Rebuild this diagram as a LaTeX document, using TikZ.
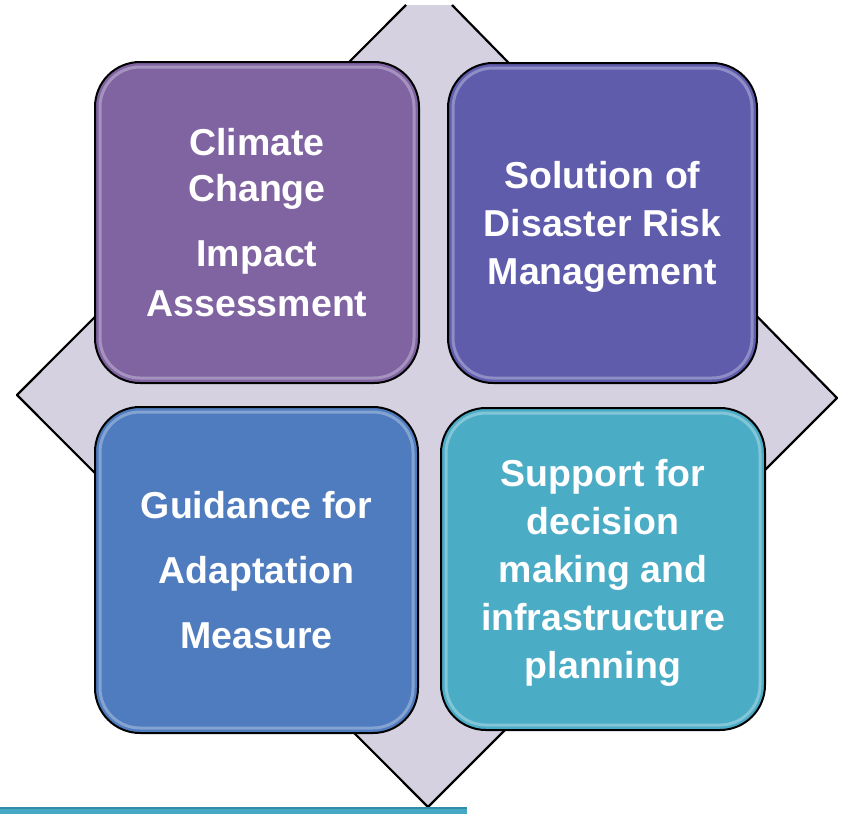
\documentclass[tikz,border=0pt]{standalone}
\usepackage{fontspec}
\setmainfont{Liberation Sans}
\usetikzlibrary{positioning}

\definecolor{cardpurple}{HTML}{8064A2}
\definecolor{cardviolet}{HTML}{5F5CAC}
\definecolor{cardblue}{HTML}{4F7CBE}
\definecolor{cardaqua}{HTML}{4BACC6}
\definecolor{lavender}{HTML}{D5D1E1}
\definecolor{bardark}{HTML}{2E8CA8}
\definecolor{barlight}{HTML}{45A9C4}

\tikzstyle{card} = [rectangle, rounded corners=45pt, draw=black, line width=2pt, text=white, align=center, text depth=0pt, font=\bfseries\fontsize{37.5}{48}\selectfont]
\tikzstyle{gleam} = [rounded corners=40pt, draw=white, line width=3pt, opacity=0.3]

\begin{document}
\begin{tikzpicture}[x=1pt, y=-1pt]
	\useasboundingbox (0,0) rectangle (841,814);
	% Backdrop diamond
	\fill [lavender] (406,5) -- (452,5) -- (837,398) -- (428,807) -- (17,395) -- cycle;
	\draw [line width=2.2pt, line join=round] (406,5) -- (17,395) -- (428,807) -- (837,398) -- (452,5);
	% Strip along the bottom
	\fill [barlight] (0,808) rectangle (467,814);
	\draw [bardark, line width=1.5pt] (0,808) -- (467,808);
	% Place nodes
	\node [card, fill=cardpurple, minimum width=324pt, minimum height=321pt] (tl) at (257,222.5) {Climate\\[-2pt]Change\\[17pt]Impact\\[2pt]Assessment};
	\node [card, fill=cardviolet, minimum width=309pt, minimum height=320pt] (tr) at (602.5,223) {Solution of\\Disaster Risk\\Management};
	\node [card, fill=cardblue, minimum width=323pt, minimum height=326pt] (bl) at (256.5,570) {Guidance for\\[17pt]Adaptation\\[17pt]Measure};
	\node [card, fill=cardaqua, minimum width=324pt, minimum height=322pt] (br) at (603,569) {Support for\\decision\\making and\\infrastructure\\planning};
	% Glassy rims
	\foreach \c in {tl,tr,bl,br}
		\draw [gleam] ([xshift=6pt,yshift=-6pt]\c.north west) rectangle ([xshift=-6pt,yshift=6pt]\c.south east);
\end{tikzpicture}
\end{document}
